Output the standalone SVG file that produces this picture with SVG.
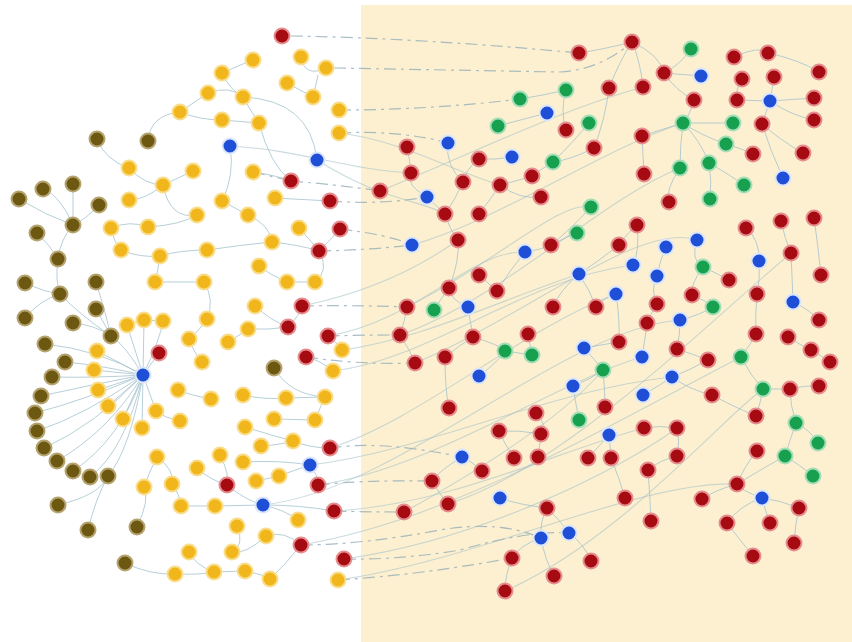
<svg xmlns="http://www.w3.org/2000/svg" width="852" height="642" viewBox="0 0 852 642">
<style>
.e{fill:none;stroke:#9fbfcc;stroke-width:1;opacity:.75}
.d{fill:none;stroke:#93aeb8;stroke-width:1.2;stroke-dasharray:12 5 3 5;opacity:.8}
.l{fill:none;stroke:#a8c3c8;stroke-width:1.1;opacity:.6}
circle{stroke-width:2}
.r circle{fill:#a60b12;stroke:#e58d8f}
.b circle{fill:#1f4fd6;stroke:#dbe5fb}
.g circle{fill:#17a04e;stroke:#a4ddb8}
.y circle{fill:#f0b61c;stroke:#f9dd8a}
.o circle{fill:#6d5812;stroke:#b5a46f}
</style>
<rect x="0" y="0" width="852" height="642" fill="#ffffff"/>
<rect x="361" y="5" width="491" height="637" fill="#fdf0d0"/>
<g id="connectors">
<path class="e" d="M143 375 Q100 350 45 344"/><path class="e" d="M143 375 Q100 365 65 362"/><path class="e" d="M143 375 Q95 378 52 377"/><path class="e" d="M143 375 Q90 385 41 396"/><path class="e" d="M143 375 Q85 400 35 413"/><path class="e" d="M143 375 Q85 415 37 431"/><path class="e" d="M143 375 Q95 425 44 448"/><path class="e" d="M143 375 Q110 430 57 461"/><path class="e" d="M143 375 Q120 440 73 471"/><path class="e" d="M143 375 Q125 450 90 477"/><path class="e" d="M143 375 Q130 450 108 476"/><path class="e" d="M143 375 L97 351"/><path class="e" d="M143 375 L94 370"/><path class="e" d="M143 375 L98 390"/><path class="e" d="M143 375 L108 406"/><path class="e" d="M143 375 L123 419"/><path class="e" d="M143 375 L142 428"/><path class="e" d="M143 375 L127 325"/><path class="e" d="M143 375 L144 320"/><path class="e" d="M143 375 Q160 340 163 321"/><path class="e" d="M143 375 L156 411"/><path class="e" d="M143 375 L159 353"/><path class="e" d="M143 375 Q125 345 111 336"/>
<path class="e" d="M19 199 Q45 215 73 225"/><path class="e" d="M43 189 Q60 195 73 225"/><path class="e" d="M73 184 L73 225"/><path class="e" d="M99 205 Q85 220 73 225"/><path class="e" d="M73 225 Q60 240 58 259"/><path class="e" d="M37 233 Q50 245 58 259"/><path class="e" d="M58 259 Q55 280 60 294"/><path class="e" d="M25 283 Q45 292 60 294"/><path class="e" d="M25 318 Q40 300 60 294"/><path class="e" d="M60 294 Q80 315 111 336"/><path class="e" d="M96 282 Q105 310 111 336"/><path class="e" d="M96 309 L111 336"/><path class="e" d="M73 323 Q95 325 111 336"/><path class="e" d="M58 505 Q100 495 108 476"/><path class="e" d="M88 530 Q95 500 108 476"/><path class="e" d="M137 527 Q150 500 144 487"/><path class="e" d="M125 563 Q150 575 175 574"/><path class="e" d="M97 139 Q105 160 129 168"/><path class="e" d="M148 141 Q150 115 180 112"/>
<path class="e" d="M129 168 Q145 185 163 185"/><path class="e" d="M163 185 Q145 200 129 200"/><path class="e" d="M193 171 L163 185"/><path class="e" d="M180 112 L208 93"/><path class="e" d="M180 112 Q200 120 222 120"/><path class="e" d="M163 185 Q170 220 197 215"/><path class="e" d="M111 228 Q130 220 148 227"/><path class="e" d="M111 228 Q115 245 121 250"/><path class="e" d="M148 227 Q180 225 197 215"/><path class="e" d="M121 250 Q140 258 160 256"/><path class="e" d="M160 256 Q180 250 207 250"/><path class="e" d="M155 282 L204 282"/><path class="e" d="M160 256 Q158 270 155 282"/><path class="e" d="M204 282 Q215 300 207 319"/><path class="e" d="M207 319 Q200 330 189 339"/><path class="e" d="M189 339 Q195 355 202 362"/><path class="e" d="M178 390 Q190 395 211 399"/><path class="e" d="M156 411 Q165 418 180 421"/><path class="e" d="M127 325 Q135 322 144 320"/><path class="e" d="M144 320 L163 321"/><path class="e" d="M157 457 Q150 470 144 487"/><path class="e" d="M157 457 Q175 470 172 484"/><path class="e" d="M172 484 Q180 495 181 506"/><path class="e" d="M181 506 L215 506"/><path class="e" d="M197 468 Q210 480 227 485"/><path class="e" d="M189 552 Q195 565 214 572"/><path class="e" d="M214 572 L245 571"/><path class="e" d="M175 574 Q200 575 214 572"/><path class="e" d="M232 552 Q245 555 266 536"/><path class="e" d="M237 526 Q245 545 232 552"/><path class="e" d="M266 536 Q285 530 301 545"/><path class="e" d="M270 579 Q285 565 301 545"/><path class="e" d="M245 571 Q265 575 270 579"/><path class="e" d="M215 506 L263 505"/><path class="e" d="M263 505 Q300 505 334 511"/><path class="e" d="M227 485 Q245 500 263 505"/><path class="e" d="M298 520 Q285 510 263 505"/><path class="e" d="M220 455 Q230 475 227 485"/><path class="e" d="M243 462 Q280 460 310 465"/><path class="e" d="M256 481 Q270 478 279 476"/><path class="e" d="M279 476 Q295 470 310 465"/><path class="e" d="M261 446 Q280 445 293 441"/><path class="e" d="M293 441 Q310 448 330 448"/><path class="e" d="M310 465 Q318 475 318 485"/><path class="e" d="M245 427 Q270 435 293 441"/><path class="e" d="M243 395 Q265 400 286 398"/><path class="e" d="M286 398 L325 397"/><path class="e" d="M274 419 L315 420"/><path class="e" d="M315 420 Q320 408 325 397"/><path class="e" d="M274 368 Q290 395 325 397"/><path class="e" d="M333 371 Q320 360 306 357"/><path class="e" d="M342 350 Q335 340 328 336"/><path class="e" d="M288 327 Q300 315 302 306"/><path class="e" d="M248 329 Q270 330 288 327"/><path class="e" d="M228 342 Q240 335 248 329"/><path class="e" d="M255 306 Q270 320 288 327"/><path class="e" d="M287 282 L315 282"/><path class="e" d="M259 266 Q270 275 287 282"/><path class="e" d="M272 242 Q300 245 319 251"/><path class="e" d="M299 228 Q310 240 319 251"/><path class="e" d="M315 282 Q330 270 319 251"/><path class="e" d="M319 251 Q330 240 340 229"/><path class="e" d="M248 215 Q270 225 272 242"/><path class="e" d="M222 201 L248 215"/><path class="e" d="M275 198 L330 201"/><path class="e" d="M253 172 Q275 175 291 181"/><path class="e" d="M230 146 Q235 175 222 201"/><path class="e" d="M207 250 Q240 245 272 242"/>
<path class="e" d="M253 60 Q240 65 222 73"/><path class="e" d="M301 57 Q305 78 326 68"/><path class="e" d="M313 97 Q316 85 318 75"/><path class="e" d="M222 73 Q230 90 243 97"/><path class="e" d="M243 97 Q250 110 259 123"/><path class="e" d="M222 120 L259 123"/><path class="e" d="M243 97 Q310 100 317 160"/><path class="e" d="M259 123 Q270 165 291 181"/><path class="e" d="M287 83 Q300 90 313 97"/><path class="e" d="M208 93 Q230 85 243 97"/>
<path class="d" d="M291 36 Q420 38 579 53"/><path class="d" d="M334 68 L560 72 Q600 70 632 42"/><path class="d" d="M339 110 Q430 110 520 99"/><path class="d" d="M339 133 Q400 130 448 143"/><path class="d" d="M291 181 Q340 185 380 191"/><path class="d" d="M330 201 Q380 205 427 197"/><path class="d" d="M340 229 Q390 235 412 245"/><path class="d" d="M319 251 Q370 250 412 245"/><path class="d" d="M302 306 Q350 305 407 307"/><path class="d" d="M328 336 Q360 335 400 335"/><path class="d" d="M306 357 Q360 365 415 363"/><path class="d" d="M334 511 Q370 512 404 512"/><path class="d" d="M344 559 Q400 560 460 550 Q530 530 569 533"/><path class="d" d="M338 580 Q420 575 512 558"/><path class="d" d="M301 545 Q360 545 440 530 Q500 520 541 538"/><path class="d" d="M318 485 Q360 480 432 481"/><path class="d" d="M330 448 Q380 440 462 457"/><path class="d" d="M253 172 L291 181"/>
<path class="l" d="M334 511 C450 505 560 450 644 428"/><path class="l" d="M344 559 C480 540 620 470 677 428"/><path class="l" d="M301 545 C450 520 600 430 741 357"/><path class="l" d="M310 465 C430 450 550 390 672 377"/><path class="l" d="M318 485 C430 470 560 380 642 357"/><path class="l" d="M263 505 C400 490 560 330 680 320"/><path class="l" d="M330 448 C420 420 520 330 616 294"/><path class="l" d="M342 350 C420 340 500 300 579 274"/><path class="l" d="M333 371 C430 360 520 280 633 265"/><path class="l" d="M328 336 C420 320 470 250 525 252"/><path class="l" d="M302 306 C380 290 430 260 458 240"/><path class="l" d="M317 160 C380 200 420 200 445 214"/><path class="l" d="M230 146 C300 150 350 170 411 173"/><path class="l" d="M339 133 C400 140 450 170 500 185"/><path class="l" d="M380 191 C480 150 560 110 643 87"/><path class="l" d="M400 335 C500 300 600 200 680 168"/><path class="l" d="M415 363 C520 320 640 220 697 240"/><path class="l" d="M404 512 C480 470 560 420 603 370"/><path class="l" d="M448 504 C560 470 700 330 791 253"/><path class="l" d="M505 591 C620 540 720 420 763 389"/><path class="l" d="M338 580 C480 560 640 480 737 484"/><path class="l" d="M407 307 C500 260 560 200 591 207"/><path class="l" d="M412 245 C500 220 600 150 683 123"/>
<path class="e" d="M579 53 Q600 50 632 42"/><path class="e" d="M632 42 Q640 60 643 87"/><path class="e" d="M632 42 Q620 60 609 88"/><path class="e" d="M632 42 Q660 55 664 73"/><path class="e" d="M691 49 Q680 65 664 73"/><path class="e" d="M664 73 L701 76"/><path class="e" d="M664 73 Q675 90 694 100"/><path class="e" d="M734 57 Q760 45 768 53"/><path class="e" d="M768 53 Q800 60 819 72"/><path class="e" d="M742 79 Q735 90 737 100"/><path class="e" d="M774 77 Q772 90 770 101"/><path class="e" d="M770 101 L814 98"/><path class="e" d="M770 101 Q790 115 814 120"/><path class="e" d="M770 101 Q765 115 762 124"/><path class="e" d="M737 100 L770 101"/><path class="e" d="M694 100 Q690 115 683 123"/><path class="e" d="M683 123 L733 123"/><path class="e" d="M683 123 Q700 135 726 144"/><path class="e" d="M683 123 Q680 145 680 168"/><path class="e" d="M683 123 Q700 140 709 163"/><path class="e" d="M683 123 Q660 130 642 136"/><path class="e" d="M726 144 Q745 150 753 154"/><path class="e" d="M762 124 Q780 140 803 153"/><path class="e" d="M762 124 Q770 150 783 178"/><path class="e" d="M709 163 Q712 180 710 199"/><path class="e" d="M709 163 Q730 175 744 185"/><path class="e" d="M680 168 Q665 190 669 202"/><path class="e" d="M642 136 Q643 155 644 174"/><path class="e" d="M609 88 Q605 120 594 148"/><path class="e" d="M566 90 Q560 110 566 130"/><path class="e" d="M566 90 Q545 95 520 99"/><path class="e" d="M547 113 Q520 120 498 126"/><path class="e" d="M589 123 Q575 140 553 162"/><path class="e" d="M594 148 Q570 160 553 162"/><path class="e" d="M553 162 Q540 170 532 176"/><path class="e" d="M532 176 Q520 180 500 185"/><path class="e" d="M512 157 Q495 160 479 159"/><path class="e" d="M479 159 Q465 170 463 182"/><path class="e" d="M448 143 Q445 165 463 182"/><path class="e" d="M463 182 Q455 200 445 214"/><path class="e" d="M500 185 Q490 200 479 214"/><path class="e" d="M541 197 Q520 200 500 185"/><path class="e" d="M427 197 L445 214"/><path class="e" d="M411 173 Q405 185 427 197"/><path class="e" d="M407 147 Q410 160 411 173"/><path class="e" d="M445 214 Q450 230 458 240"/><path class="e" d="M591 207 Q570 230 551 245"/><path class="e" d="M577 233 Q560 240 551 245"/><path class="e" d="M551 245 Q540 250 525 252"/><path class="e" d="M619 245 Q630 230 637 225"/><path class="e" d="M637 225 Q640 250 633 265"/><path class="e" d="M579 274 Q600 260 619 245"/><path class="e" d="M579 274 Q590 290 596 307"/><path class="e" d="M579 274 Q560 290 553 307"/><path class="e" d="M525 252 Q510 270 497 291"/><path class="e" d="M479 275 Q490 285 497 291"/><path class="e" d="M458 240 Q460 260 449 288"/><path class="e" d="M449 288 Q440 300 434 310"/><path class="e" d="M468 307 Q470 320 473 337"/><path class="e" d="M468 307 Q450 300 449 288"/><path class="e" d="M407 307 Q405 320 400 335"/><path class="e" d="M400 335 Q410 350 415 363"/><path class="e" d="M445 357 Q460 345 473 337"/><path class="e" d="M473 337 Q500 345 505 351"/><path class="e" d="M505 351 L532 355"/><path class="e" d="M528 334 Q530 345 532 355"/><path class="e" d="M479 376 Q500 360 505 351"/><path class="e" d="M445 357 Q445 390 449 408"/><path class="e" d="M616 294 Q620 320 619 342"/><path class="e" d="M616 294 Q600 300 596 307"/><path class="e" d="M584 348 Q600 345 619 342"/><path class="e" d="M584 348 Q595 360 603 370"/><path class="e" d="M573 386 Q590 380 603 370"/><path class="e" d="M573 386 Q575 400 579 420"/><path class="e" d="M603 370 Q605 390 605 407"/><path class="e" d="M536 413 Q550 430 541 434"/><path class="e" d="M499 431 Q520 430 541 434"/><path class="e" d="M541 434 Q540 445 538 457"/><path class="e" d="M499 431 Q505 445 514 458"/><path class="e" d="M482 471 Q470 460 462 457"/><path class="e" d="M462 457 Q440 470 432 481"/><path class="e" d="M432 481 Q440 495 448 504"/><path class="e" d="M500 498 Q520 505 547 508"/><path class="e" d="M547 508 Q540 520 541 538"/><path class="e" d="M547 508 Q560 520 569 533"/><path class="e" d="M541 538 Q520 545 512 558"/><path class="e" d="M541 538 Q545 560 554 576"/><path class="e" d="M569 533 Q585 545 591 561"/><path class="e" d="M512 558 Q505 575 505 591"/><path class="e" d="M609 435 Q600 445 588 458"/><path class="e" d="M609 435 Q610 445 611 458"/><path class="e" d="M611 458 Q620 480 625 498"/><path class="e" d="M644 428 Q660 425 677 428"/><path class="e" d="M677 428 Q680 440 677 456"/><path class="e" d="M648 470 Q660 460 677 456"/><path class="e" d="M657 276 Q650 290 657 304"/><path class="e" d="M657 304 Q650 315 647 323"/><path class="e" d="M666 247 Q660 260 657 276"/><path class="e" d="M697 240 Q690 260 703 267"/><path class="e" d="M703 267 Q720 275 729 280"/><path class="e" d="M703 267 Q690 285 692 295"/><path class="e" d="M692 295 Q705 300 713 307"/><path class="e" d="M713 307 Q700 315 680 320"/><path class="e" d="M680 320 Q680 335 677 349"/><path class="e" d="M677 349 Q695 355 708 360"/><path class="e" d="M708 360 Q690 370 672 377"/><path class="e" d="M672 377 Q660 385 643 395"/><path class="e" d="M672 377 Q690 390 712 395"/><path class="e" d="M642 357 Q645 340 647 323"/><path class="e" d="M746 228 Q760 240 759 261"/><path class="e" d="M759 261 Q760 280 757 294"/><path class="e" d="M781 221 Q785 240 791 253"/><path class="e" d="M814 218 Q818 245 821 275"/><path class="e" d="M791 253 Q792 275 793 302"/><path class="e" d="M793 302 Q810 310 819 320"/><path class="e" d="M757 294 Q755 315 756 334"/><path class="e" d="M788 337 Q800 345 811 350"/><path class="e" d="M811 350 Q820 355 830 362"/><path class="e" d="M756 334 Q750 345 741 357"/><path class="e" d="M741 357 Q750 375 763 389"/><path class="e" d="M763 389 L790 389"/><path class="e" d="M790 389 Q805 385 819 386"/><path class="e" d="M790 389 Q790 405 796 423"/><path class="e" d="M763 389 Q760 405 756 416"/><path class="e" d="M796 423 Q810 430 818 443"/><path class="e" d="M796 423 Q790 440 785 456"/><path class="e" d="M785 456 Q800 465 813 476"/><path class="e" d="M785 456 Q760 470 737 484"/><path class="e" d="M757 451 Q745 465 737 484"/><path class="e" d="M737 484 Q740 490 762 498"/><path class="e" d="M762 498 Q780 500 799 508"/><path class="e" d="M762 498 Q765 510 770 523"/><path class="e" d="M762 498 Q740 505 727 523"/><path class="e" d="M737 484 Q715 490 702 499"/><path class="e" d="M799 508 Q795 525 794 543"/><path class="e" d="M727 523 Q740 540 753 556"/><path class="e" d="M651 521 Q650 495 648 470"/><path class="e" d="M712 395 Q730 405 756 416"/>
</g>
<g id="n1" class="r"><circle cx="282" cy="36" r="7.5"/></g>
<g id="n2" class="r"><circle cx="579" cy="53" r="7.5"/></g>
<g id="n3" class="r"><circle cx="632" cy="42" r="7.5"/></g>
<g id="n4" class="r"><circle cx="734" cy="57" r="7.5"/></g>
<g id="n5" class="r"><circle cx="768" cy="53" r="7.5"/></g>
<g id="n6" class="r"><circle cx="819" cy="72" r="7.5"/></g>
<g id="n7" class="r"><circle cx="664" cy="73" r="7.5"/></g>
<g id="n8" class="r"><circle cx="742" cy="79" r="7.5"/></g>
<g id="n9" class="r"><circle cx="774" cy="77" r="7.5"/></g>
<g id="n10" class="r"><circle cx="643" cy="87" r="7.5"/></g>
<g id="n11" class="r"><circle cx="609" cy="88" r="7.5"/></g>
<g id="n12" class="r"><circle cx="694" cy="100" r="7.5"/></g>
<g id="n13" class="r"><circle cx="737" cy="100" r="7.5"/></g>
<g id="n14" class="r"><circle cx="814" cy="98" r="7.5"/></g>
<g id="n15" class="r"><circle cx="814" cy="120" r="7.5"/></g>
<g id="n16" class="r"><circle cx="762" cy="124" r="7.5"/></g>
<g id="n17" class="r"><circle cx="566" cy="130" r="7.5"/></g>
<g id="n18" class="r"><circle cx="594" cy="148" r="7.5"/></g>
<g id="n19" class="r"><circle cx="642" cy="136" r="7.5"/></g>
<g id="n20" class="r"><circle cx="753" cy="154" r="7.5"/></g>
<g id="n21" class="r"><circle cx="803" cy="153" r="7.5"/></g>
<g id="n22" class="r"><circle cx="644" cy="174" r="7.5"/></g>
<g id="n23" class="r"><circle cx="669" cy="202" r="7.5"/></g>
<g id="n24" class="r"><circle cx="407" cy="147" r="7.5"/></g>
<g id="n25" class="r"><circle cx="411" cy="173" r="7.5"/></g>
<g id="n26" class="r"><circle cx="380" cy="191" r="7.5"/></g>
<g id="n27" class="r"><circle cx="463" cy="182" r="7.5"/></g>
<g id="n28" class="r"><circle cx="479" cy="159" r="7.5"/></g>
<g id="n29" class="r"><circle cx="500" cy="185" r="7.5"/></g>
<g id="n30" class="r"><circle cx="532" cy="176" r="7.5"/></g>
<g id="n31" class="r"><circle cx="541" cy="197" r="7.5"/></g>
<g id="n32" class="r"><circle cx="445" cy="214" r="7.5"/></g>
<g id="n33" class="r"><circle cx="479" cy="214" r="7.5"/></g>
<g id="n34" class="r"><circle cx="291" cy="181" r="7.5"/></g>
<g id="n35" class="r"><circle cx="330" cy="201" r="7.5"/></g>
<g id="n36" class="r"><circle cx="340" cy="229" r="7.5"/></g>
<g id="n37" class="r"><circle cx="319" cy="251" r="7.5"/></g>
<g id="n38" class="r"><circle cx="458" cy="240" r="7.5"/></g>
<g id="n39" class="r"><circle cx="551" cy="245" r="7.5"/></g>
<g id="n40" class="r"><circle cx="619" cy="245" r="7.5"/></g>
<g id="n41" class="r"><circle cx="637" cy="225" r="7.5"/></g>
<g id="n42" class="r"><circle cx="746" cy="228" r="7.5"/></g>
<g id="n43" class="r"><circle cx="781" cy="221" r="7.5"/></g>
<g id="n44" class="r"><circle cx="814" cy="218" r="7.5"/></g>
<g id="n45" class="r"><circle cx="791" cy="253" r="7.5"/></g>
<g id="n46" class="r"><circle cx="729" cy="280" r="7.5"/></g>
<g id="n47" class="r"><circle cx="821" cy="275" r="7.5"/></g>
<g id="n48" class="r"><circle cx="692" cy="295" r="7.5"/></g>
<g id="n49" class="r"><circle cx="757" cy="294" r="7.5"/></g>
<g id="n50" class="r"><circle cx="657" cy="304" r="7.5"/></g>
<g id="n51" class="r"><circle cx="647" cy="323" r="7.5"/></g>
<g id="n52" class="r"><circle cx="819" cy="320" r="7.5"/></g>
<g id="n53" class="r"><circle cx="756" cy="334" r="7.5"/></g>
<g id="n54" class="r"><circle cx="788" cy="337" r="7.5"/></g>
<g id="n55" class="r"><circle cx="677" cy="349" r="7.5"/></g>
<g id="n56" class="r"><circle cx="708" cy="360" r="7.5"/></g>
<g id="n57" class="r"><circle cx="811" cy="350" r="7.5"/></g>
<g id="n58" class="r"><circle cx="830" cy="362" r="7.5"/></g>
<g id="n59" class="r"><circle cx="712" cy="395" r="7.5"/></g>
<g id="n60" class="r"><circle cx="790" cy="389" r="7.5"/></g>
<g id="n61" class="r"><circle cx="819" cy="386" r="7.5"/></g>
<g id="n62" class="r"><circle cx="756" cy="416" r="7.5"/></g>
<g id="n63" class="r"><circle cx="479" cy="275" r="7.5"/></g>
<g id="n64" class="r"><circle cx="449" cy="288" r="7.5"/></g>
<g id="n65" class="r"><circle cx="497" cy="291" r="7.5"/></g>
<g id="n66" class="r"><circle cx="553" cy="307" r="7.5"/></g>
<g id="n67" class="r"><circle cx="596" cy="307" r="7.5"/></g>
<g id="n68" class="r"><circle cx="407" cy="307" r="7.5"/></g>
<g id="n69" class="r"><circle cx="400" cy="335" r="7.5"/></g>
<g id="n70" class="r"><circle cx="415" cy="363" r="7.5"/></g>
<g id="n71" class="r"><circle cx="473" cy="337" r="7.5"/></g>
<g id="n72" class="r"><circle cx="528" cy="334" r="7.5"/></g>
<g id="n73" class="r"><circle cx="619" cy="342" r="7.5"/></g>
<g id="n74" class="r"><circle cx="445" cy="357" r="7.5"/></g>
<g id="n75" class="r"><circle cx="302" cy="306" r="7.5"/></g>
<g id="n76" class="r"><circle cx="288" cy="327" r="7.5"/></g>
<g id="n77" class="r"><circle cx="328" cy="336" r="7.5"/></g>
<g id="n78" class="r"><circle cx="306" cy="357" r="7.5"/></g>
<g id="n79" class="r"><circle cx="449" cy="408" r="7.5"/></g>
<g id="n80" class="r"><circle cx="536" cy="413" r="7.5"/></g>
<g id="n81" class="r"><circle cx="605" cy="407" r="7.5"/></g>
<g id="n82" class="r"><circle cx="499" cy="431" r="7.5"/></g>
<g id="n83" class="r"><circle cx="541" cy="434" r="7.5"/></g>
<g id="n84" class="r"><circle cx="644" cy="428" r="7.5"/></g>
<g id="n85" class="r"><circle cx="677" cy="428" r="7.5"/></g>
<g id="n86" class="r"><circle cx="514" cy="458" r="7.5"/></g>
<g id="n87" class="r"><circle cx="538" cy="457" r="7.5"/></g>
<g id="n88" class="r"><circle cx="588" cy="458" r="7.5"/></g>
<g id="n89" class="r"><circle cx="611" cy="458" r="7.5"/></g>
<g id="n90" class="r"><circle cx="482" cy="471" r="7.5"/></g>
<g id="n91" class="r"><circle cx="432" cy="481" r="7.5"/></g>
<g id="n92" class="r"><circle cx="448" cy="504" r="7.5"/></g>
<g id="n93" class="r"><circle cx="547" cy="508" r="7.5"/></g>
<g id="n94" class="r"><circle cx="625" cy="498" r="7.5"/></g>
<g id="n95" class="r"><circle cx="512" cy="558" r="7.5"/></g>
<g id="n96" class="r"><circle cx="591" cy="561" r="7.5"/></g>
<g id="n97" class="r"><circle cx="554" cy="576" r="7.5"/></g>
<g id="n98" class="r"><circle cx="505" cy="591" r="7.5"/></g>
<g id="n99" class="r"><circle cx="404" cy="512" r="7.5"/></g>
<g id="n100" class="r"><circle cx="334" cy="511" r="7.5"/></g>
<g id="n101" class="r"><circle cx="318" cy="485" r="7.5"/></g>
<g id="n102" class="r"><circle cx="330" cy="448" r="7.5"/></g>
<g id="n103" class="r"><circle cx="227" cy="485" r="7.5"/></g>
<g id="n104" class="r"><circle cx="301" cy="545" r="7.5"/></g>
<g id="n105" class="r"><circle cx="344" cy="559" r="7.5"/></g>
<g id="n106" class="r"><circle cx="159" cy="353" r="7.5"/></g>
<g id="n107" class="r"><circle cx="677" cy="456" r="7.5"/></g>
<g id="n108" class="r"><circle cx="648" cy="470" r="7.5"/></g>
<g id="n109" class="r"><circle cx="757" cy="451" r="7.5"/></g>
<g id="n110" class="r"><circle cx="737" cy="484" r="7.5"/></g>
<g id="n111" class="r"><circle cx="702" cy="499" r="7.5"/></g>
<g id="n112" class="r"><circle cx="799" cy="508" r="7.5"/></g>
<g id="n113" class="r"><circle cx="651" cy="521" r="7.5"/></g>
<g id="n114" class="r"><circle cx="727" cy="523" r="7.5"/></g>
<g id="n115" class="r"><circle cx="770" cy="523" r="7.5"/></g>
<g id="n116" class="r"><circle cx="794" cy="543" r="7.5"/></g>
<g id="n117" class="r"><circle cx="753" cy="556" r="7.5"/></g>
<g id="n118" class="b"><circle cx="701" cy="76" r="7.5"/></g>
<g id="n119" class="b"><circle cx="770" cy="101" r="7.5"/></g>
<g id="n120" class="b"><circle cx="547" cy="113" r="7.5"/></g>
<g id="n121" class="b"><circle cx="448" cy="143" r="7.5"/></g>
<g id="n122" class="b"><circle cx="512" cy="157" r="7.5"/></g>
<g id="n123" class="b"><circle cx="427" cy="197" r="7.5"/></g>
<g id="n124" class="b"><circle cx="783" cy="178" r="7.5"/></g>
<g id="n125" class="b"><circle cx="412" cy="245" r="7.5"/></g>
<g id="n126" class="b"><circle cx="525" cy="252" r="7.5"/></g>
<g id="n127" class="b"><circle cx="579" cy="274" r="7.5"/></g>
<g id="n128" class="b"><circle cx="633" cy="265" r="7.5"/></g>
<g id="n129" class="b"><circle cx="666" cy="247" r="7.5"/></g>
<g id="n130" class="b"><circle cx="697" cy="240" r="7.5"/></g>
<g id="n131" class="b"><circle cx="657" cy="276" r="7.5"/></g>
<g id="n132" class="b"><circle cx="616" cy="294" r="7.5"/></g>
<g id="n133" class="b"><circle cx="468" cy="307" r="7.5"/></g>
<g id="n134" class="b"><circle cx="680" cy="320" r="7.5"/></g>
<g id="n135" class="b"><circle cx="759" cy="261" r="7.5"/></g>
<g id="n136" class="b"><circle cx="793" cy="302" r="7.5"/></g>
<g id="n137" class="b"><circle cx="584" cy="348" r="7.5"/></g>
<g id="n138" class="b"><circle cx="642" cy="357" r="7.5"/></g>
<g id="n139" class="b"><circle cx="672" cy="377" r="7.5"/></g>
<g id="n140" class="b"><circle cx="643" cy="395" r="7.5"/></g>
<g id="n141" class="b"><circle cx="573" cy="386" r="7.5"/></g>
<g id="n142" class="b"><circle cx="479" cy="376" r="7.5"/></g>
<g id="n143" class="b"><circle cx="609" cy="435" r="7.5"/></g>
<g id="n144" class="b"><circle cx="462" cy="457" r="7.5"/></g>
<g id="n145" class="b"><circle cx="500" cy="498" r="7.5"/></g>
<g id="n146" class="b"><circle cx="541" cy="538" r="7.5"/></g>
<g id="n147" class="b"><circle cx="569" cy="533" r="7.5"/></g>
<g id="n148" class="b"><circle cx="762" cy="498" r="7.5"/></g>
<g id="n149" class="b"><circle cx="230" cy="146" r="7.5"/></g>
<g id="n150" class="b"><circle cx="317" cy="160" r="7.5"/></g>
<g id="n151" class="b"><circle cx="143" cy="375" r="7.5"/></g>
<g id="n152" class="b"><circle cx="310" cy="465" r="7.5"/></g>
<g id="n153" class="b"><circle cx="263" cy="505" r="7.5"/></g>
<g id="n154" class="g"><circle cx="691" cy="49" r="7.5"/></g>
<g id="n155" class="g"><circle cx="566" cy="90" r="7.5"/></g>
<g id="n156" class="g"><circle cx="520" cy="99" r="7.5"/></g>
<g id="n157" class="g"><circle cx="498" cy="126" r="7.5"/></g>
<g id="n158" class="g"><circle cx="589" cy="123" r="7.5"/></g>
<g id="n159" class="g"><circle cx="553" cy="162" r="7.5"/></g>
<g id="n160" class="g"><circle cx="591" cy="207" r="7.5"/></g>
<g id="n161" class="g"><circle cx="683" cy="123" r="7.5"/></g>
<g id="n162" class="g"><circle cx="733" cy="123" r="7.5"/></g>
<g id="n163" class="g"><circle cx="726" cy="144" r="7.5"/></g>
<g id="n164" class="g"><circle cx="680" cy="168" r="7.5"/></g>
<g id="n165" class="g"><circle cx="709" cy="163" r="7.5"/></g>
<g id="n166" class="g"><circle cx="744" cy="185" r="7.5"/></g>
<g id="n167" class="g"><circle cx="710" cy="199" r="7.5"/></g>
<g id="n168" class="g"><circle cx="577" cy="233" r="7.5"/></g>
<g id="n169" class="g"><circle cx="703" cy="267" r="7.5"/></g>
<g id="n170" class="g"><circle cx="713" cy="307" r="7.5"/></g>
<g id="n171" class="g"><circle cx="434" cy="310" r="7.5"/></g>
<g id="n172" class="g"><circle cx="505" cy="351" r="7.5"/></g>
<g id="n173" class="g"><circle cx="532" cy="355" r="7.5"/></g>
<g id="n174" class="g"><circle cx="603" cy="370" r="7.5"/></g>
<g id="n175" class="g"><circle cx="579" cy="420" r="7.5"/></g>
<g id="n176" class="g"><circle cx="741" cy="357" r="7.5"/></g>
<g id="n177" class="g"><circle cx="763" cy="389" r="7.5"/></g>
<g id="n178" class="g"><circle cx="796" cy="423" r="7.5"/></g>
<g id="n179" class="g"><circle cx="818" cy="443" r="7.5"/></g>
<g id="n180" class="g"><circle cx="785" cy="456" r="7.5"/></g>
<g id="n181" class="g"><circle cx="813" cy="476" r="7.5"/></g>
<g id="n182" class="y"><circle cx="253" cy="60" r="7.5"/></g>
<g id="n183" class="y"><circle cx="301" cy="57" r="7.5"/></g>
<g id="n184" class="y"><circle cx="326" cy="68" r="7.5"/></g>
<g id="n185" class="y"><circle cx="222" cy="73" r="7.5"/></g>
<g id="n186" class="y"><circle cx="287" cy="83" r="7.5"/></g>
<g id="n187" class="y"><circle cx="243" cy="97" r="7.5"/></g>
<g id="n188" class="y"><circle cx="313" cy="97" r="7.5"/></g>
<g id="n189" class="y"><circle cx="339" cy="110" r="7.5"/></g>
<g id="n190" class="y"><circle cx="222" cy="120" r="7.5"/></g>
<g id="n191" class="y"><circle cx="259" cy="123" r="7.5"/></g>
<g id="n192" class="y"><circle cx="339" cy="133" r="7.5"/></g>
<g id="n193" class="y"><circle cx="208" cy="93" r="7.5"/></g>
<g id="n194" class="y"><circle cx="180" cy="112" r="7.5"/></g>
<g id="n195" class="y"><circle cx="129" cy="168" r="7.5"/></g>
<g id="n196" class="y"><circle cx="193" cy="171" r="7.5"/></g>
<g id="n197" class="y"><circle cx="163" cy="185" r="7.5"/></g>
<g id="n198" class="y"><circle cx="129" cy="200" r="7.5"/></g>
<g id="n199" class="y"><circle cx="197" cy="215" r="7.5"/></g>
<g id="n200" class="y"><circle cx="253" cy="172" r="7.5"/></g>
<g id="n201" class="y"><circle cx="275" cy="198" r="7.5"/></g>
<g id="n202" class="y"><circle cx="222" cy="201" r="7.5"/></g>
<g id="n203" class="y"><circle cx="248" cy="215" r="7.5"/></g>
<g id="n204" class="y"><circle cx="111" cy="228" r="7.5"/></g>
<g id="n205" class="y"><circle cx="148" cy="227" r="7.5"/></g>
<g id="n206" class="y"><circle cx="121" cy="250" r="7.5"/></g>
<g id="n207" class="y"><circle cx="207" cy="250" r="7.5"/></g>
<g id="n208" class="y"><circle cx="160" cy="256" r="7.5"/></g>
<g id="n209" class="y"><circle cx="155" cy="282" r="7.5"/></g>
<g id="n210" class="y"><circle cx="204" cy="282" r="7.5"/></g>
<g id="n211" class="y"><circle cx="127" cy="325" r="7.5"/></g>
<g id="n212" class="y"><circle cx="144" cy="320" r="7.5"/></g>
<g id="n213" class="y"><circle cx="163" cy="321" r="7.5"/></g>
<g id="n214" class="y"><circle cx="207" cy="319" r="7.5"/></g>
<g id="n215" class="y"><circle cx="189" cy="339" r="7.5"/></g>
<g id="n216" class="y"><circle cx="97" cy="351" r="7.5"/></g>
<g id="n217" class="y"><circle cx="202" cy="362" r="7.5"/></g>
<g id="n218" class="y"><circle cx="94" cy="370" r="7.5"/></g>
<g id="n219" class="y"><circle cx="98" cy="390" r="7.5"/></g>
<g id="n220" class="y"><circle cx="178" cy="390" r="7.5"/></g>
<g id="n221" class="y"><circle cx="211" cy="399" r="7.5"/></g>
<g id="n222" class="y"><circle cx="108" cy="406" r="7.5"/></g>
<g id="n223" class="y"><circle cx="156" cy="411" r="7.5"/></g>
<g id="n224" class="y"><circle cx="123" cy="419" r="7.5"/></g>
<g id="n225" class="y"><circle cx="180" cy="421" r="7.5"/></g>
<g id="n226" class="y"><circle cx="142" cy="428" r="7.5"/></g>
<g id="n227" class="y"><circle cx="299" cy="228" r="7.5"/></g>
<g id="n228" class="y"><circle cx="272" cy="242" r="7.5"/></g>
<g id="n229" class="y"><circle cx="259" cy="266" r="7.5"/></g>
<g id="n230" class="y"><circle cx="287" cy="282" r="7.5"/></g>
<g id="n231" class="y"><circle cx="315" cy="282" r="7.5"/></g>
<g id="n232" class="y"><circle cx="255" cy="306" r="7.5"/></g>
<g id="n233" class="y"><circle cx="248" cy="329" r="7.5"/></g>
<g id="n234" class="y"><circle cx="228" cy="342" r="7.5"/></g>
<g id="n235" class="y"><circle cx="342" cy="350" r="7.5"/></g>
<g id="n236" class="y"><circle cx="333" cy="371" r="7.5"/></g>
<g id="n237" class="y"><circle cx="243" cy="395" r="7.5"/></g>
<g id="n238" class="y"><circle cx="286" cy="398" r="7.5"/></g>
<g id="n239" class="y"><circle cx="325" cy="397" r="7.5"/></g>
<g id="n240" class="y"><circle cx="274" cy="419" r="7.5"/></g>
<g id="n241" class="y"><circle cx="315" cy="420" r="7.5"/></g>
<g id="n242" class="y"><circle cx="245" cy="427" r="7.5"/></g>
<g id="n243" class="y"><circle cx="293" cy="441" r="7.5"/></g>
<g id="n244" class="y"><circle cx="261" cy="446" r="7.5"/></g>
<g id="n245" class="y"><circle cx="220" cy="455" r="7.5"/></g>
<g id="n246" class="y"><circle cx="243" cy="462" r="7.5"/></g>
<g id="n247" class="y"><circle cx="279" cy="476" r="7.5"/></g>
<g id="n248" class="y"><circle cx="256" cy="481" r="7.5"/></g>
<g id="n249" class="y"><circle cx="157" cy="457" r="7.5"/></g>
<g id="n250" class="y"><circle cx="197" cy="468" r="7.5"/></g>
<g id="n251" class="y"><circle cx="144" cy="487" r="7.5"/></g>
<g id="n252" class="y"><circle cx="172" cy="484" r="7.5"/></g>
<g id="n253" class="y"><circle cx="181" cy="506" r="7.5"/></g>
<g id="n254" class="y"><circle cx="215" cy="506" r="7.5"/></g>
<g id="n255" class="y"><circle cx="298" cy="520" r="7.5"/></g>
<g id="n256" class="y"><circle cx="237" cy="526" r="7.5"/></g>
<g id="n257" class="y"><circle cx="266" cy="536" r="7.5"/></g>
<g id="n258" class="y"><circle cx="232" cy="552" r="7.5"/></g>
<g id="n259" class="y"><circle cx="189" cy="552" r="7.5"/></g>
<g id="n260" class="y"><circle cx="175" cy="574" r="7.5"/></g>
<g id="n261" class="y"><circle cx="214" cy="572" r="7.5"/></g>
<g id="n262" class="y"><circle cx="245" cy="571" r="7.5"/></g>
<g id="n263" class="y"><circle cx="270" cy="579" r="7.5"/></g>
<g id="n264" class="y"><circle cx="338" cy="580" r="7.5"/></g>
<g id="n265" class="o"><circle cx="97" cy="139" r="7.5"/></g>
<g id="n266" class="o"><circle cx="148" cy="141" r="7.5"/></g>
<g id="n267" class="o"><circle cx="43" cy="189" r="7.5"/></g>
<g id="n268" class="o"><circle cx="73" cy="184" r="7.5"/></g>
<g id="n269" class="o"><circle cx="19" cy="199" r="7.5"/></g>
<g id="n270" class="o"><circle cx="99" cy="205" r="7.5"/></g>
<g id="n271" class="o"><circle cx="73" cy="225" r="7.5"/></g>
<g id="n272" class="o"><circle cx="37" cy="233" r="7.5"/></g>
<g id="n273" class="o"><circle cx="58" cy="259" r="7.5"/></g>
<g id="n274" class="o"><circle cx="25" cy="283" r="7.5"/></g>
<g id="n275" class="o"><circle cx="96" cy="282" r="7.5"/></g>
<g id="n276" class="o"><circle cx="60" cy="294" r="7.5"/></g>
<g id="n277" class="o"><circle cx="96" cy="309" r="7.5"/></g>
<g id="n278" class="o"><circle cx="25" cy="318" r="7.5"/></g>
<g id="n279" class="o"><circle cx="73" cy="323" r="7.5"/></g>
<g id="n280" class="o"><circle cx="111" cy="336" r="7.5"/></g>
<g id="n281" class="o"><circle cx="45" cy="344" r="7.5"/></g>
<g id="n282" class="o"><circle cx="65" cy="362" r="7.5"/></g>
<g id="n283" class="o"><circle cx="52" cy="377" r="7.5"/></g>
<g id="n284" class="o"><circle cx="41" cy="396" r="7.5"/></g>
<g id="n285" class="o"><circle cx="35" cy="413" r="7.5"/></g>
<g id="n286" class="o"><circle cx="37" cy="431" r="7.5"/></g>
<g id="n287" class="o"><circle cx="44" cy="448" r="7.5"/></g>
<g id="n288" class="o"><circle cx="57" cy="461" r="7.5"/></g>
<g id="n289" class="o"><circle cx="73" cy="471" r="7.5"/></g>
<g id="n290" class="o"><circle cx="90" cy="477" r="7.5"/></g>
<g id="n291" class="o"><circle cx="108" cy="476" r="7.5"/></g>
<g id="n292" class="o"><circle cx="58" cy="505" r="7.5"/></g>
<g id="n293" class="o"><circle cx="88" cy="530" r="7.5"/></g>
<g id="n294" class="o"><circle cx="137" cy="527" r="7.5"/></g>
<g id="n295" class="o"><circle cx="125" cy="563" r="7.5"/></g>
<g id="n296" class="o"><circle cx="274" cy="368" r="7.5"/></g>
</svg>
